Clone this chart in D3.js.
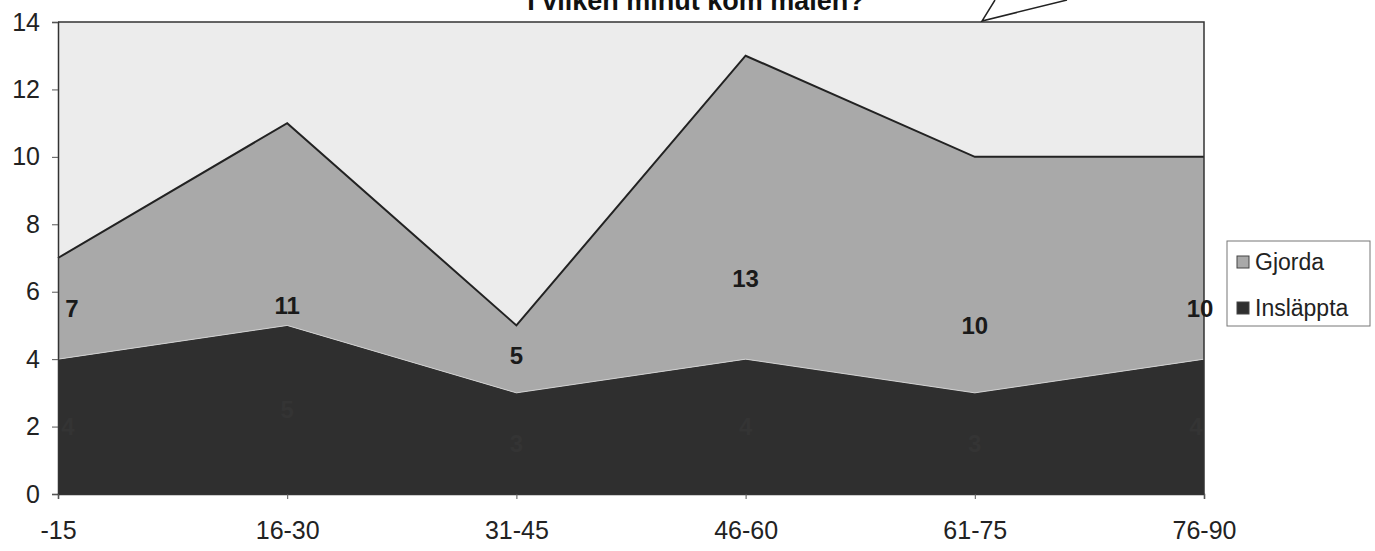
<!DOCTYPE html>
<html>
<head>
<meta charset="utf-8">
<script src="https://cdn.jsdelivr.net/npm/d3@7"></script>
<style>
  body { margin: 0; background: #fff; }
  text { font-family: "Liberation Sans", Arial, sans-serif; }
</style>
</head>
<body>
<script>
  // categories and series
  const periods = ['-15', '16-30', '31-45', '46-60', '61-75', '76-90'];
  const inslappta = [4, 5, 3, 4, 3, 4];
  const gjorda = [3, 6, 2, 9, 7, 6];
  const totals = [7, 11, 5, 13, 10, 10];
  // where Excel put the total labels (in value units)
  const labelAt = [5.5, 5.6, 4.1, 6.4, 5.0, 5.5];
  const yTicks = [0, 2, 4, 6, 8, 10, 12, 14];
  const seriesNames = ['Gjorda', 'Insläppta'];

  const width = 1375;
  const height = 551;
  const margin = { top: 22, right: 171, bottom: 57, left: 58 };

  const svg = d3.select('body')
    .append('svg')
    .attr('width', width)
    .attr('height', height);

  const x = d3.scalePoint()
    .domain(periods)
    .range([margin.left, width - margin.right]);

  const y = d3.scaleLinear()
    .domain([0, 14])
    .range([height - margin.bottom, margin.top]);

  const rows = periods.map((p, i) => ({ period: p, Insläppta: inslappta[i], Gjorda: gjorda[i] }));
  const stacked = d3.stack().keys(['Insläppta', 'Gjorda'])(rows);

  // plot background
  svg.append('rect')
    .attr('x', margin.left)
    .attr('y', margin.top)
    .attr('width', width - margin.right - margin.left)
    .attr('height', height - margin.bottom - margin.top)
    .attr('fill', '#ececec');

  const area = d3.area()
    .x((d) => x(d.data.period))
    .y0((d) => y(d[0]))
    .y1((d) => y(d[1]));

  const fills = { 'Insläppta': '#2f2f2f', 'Gjorda': '#a9a9a9' };

  svg.selectAll('path.area')
    .data(stacked)
    .join('path')
    .attr('class', 'area')
    .attr('d', area)
    .attr('fill', (d) => fills[d.key]);

  // outline of the top of each layer
  const topLine = d3.line()
    .x((d) => x(d.data.period))
    .y((d) => y(d[1]));

  svg.append('path')
    .attr('d', topLine(stacked[1]))
    .attr('fill', 'none')
    .attr('stroke', '#222')
    .attr('stroke-width', 2);

  svg.append('path')
    .attr('d', topLine(stacked[0]))
    .attr('fill', 'none')
    .attr('stroke', '#d0d0d0')
    .attr('stroke-width', 1);

  // plot frame top and right
  svg.append('path')
    .attr('d', `M${margin.left},${margin.top}H${width - margin.right}V${height - margin.bottom}`)
    .attr('fill', 'none')
    .attr('stroke', '#333')
    .attr('stroke-width', 1.5);

  // axes
  const yAxis = svg.append('g')
    .attr('transform', `translate(${margin.left},0)`)
    .call(d3.axisLeft(y).tickValues(yTicks).tickSize(6).tickPadding(12));

  const xAxis = svg.append('g')
    .attr('transform', `translate(0,${height - margin.bottom})`)
    .call(d3.axisBottom(x).tickSize(5).tickPadding(22));

  [yAxis, xAxis].forEach((g) => {
    g.select('.domain').attr('stroke', '#333').attr('stroke-width', 1.5);
    g.selectAll('.tick line').attr('stroke', '#555');
    g.selectAll('.tick text')
      .attr('font-size', 25)
      .attr('fill', '#222')
      .style('font-family', '"Liberation Sans", Arial, sans-serif');
  });

  // data labels
  svg.selectAll('text.total')
    .data(totals)
    .join('text')
    .attr('class', 'total')
    .attr('x', (d, i) => x(periods[i]) + (i === 0 ? 14 : i === periods.length - 1 ? -4 : 0))
    .attr('y', (d, i) => y(labelAt[i]))
    .attr('text-anchor', 'middle')
    .attr('dy', '0.35em')
    .attr('font-size', 24)
    .attr('font-weight', 'bold')
    .attr('fill', '#1a1a1a')
    .text((d) => d);

  svg.selectAll('text.inner')
    .data(inslappta)
    .join('text')
    .attr('class', 'inner')
    .attr('x', (d, i) => x(periods[i]) + (i === 0 ? 10 : i === periods.length - 1 ? -8 : 0))
    .attr('y', (d) => y(d / 2))
    .attr('text-anchor', 'middle')
    .attr('dy', '0.35em')
    .attr('font-size', 24)
    .attr('font-weight', 'bold')
    .attr('fill', '#343434')
    .text((d) => d);

  // title, cut at the top edge as in the scan
  svg.append('text')
    .attr('x', 696)
    .attr('y', 10)
    .attr('text-anchor', 'middle')
    .attr('font-size', 27)
    .attr('font-weight', 'bold')
    .attr('fill', '#111')
    .text('I vilken minut kom målen?');

  // callout pointer
  svg.append('path')
    .attr('d', 'M995,0L982,21L1067,0')
    .attr('fill', '#fff')
    .attr('stroke', '#222')
    .attr('stroke-width', 1.5);

  // legend
  const legend = svg.append('g')
    .attr('transform', 'translate(1227,241)');

  legend.append('rect')
    .attr('width', 143)
    .attr('height', 85)
    .attr('fill', '#fff')
    .attr('stroke', '#777')
    .attr('stroke-width', 1);

  const legendFills = ['#a9a9a9', '#2f2f2f'];

  const item = legend.selectAll('g.item')
    .data(seriesNames)
    .join('g')
    .attr('class', 'item')
    .attr('transform', (d, i) => `translate(10,${21 + i * 46})`);

  item.append('rect')
    .attr('x', 0)
    .attr('y', -6)
    .attr('width', 12)
    .attr('height', 12)
    .attr('fill', (d, i) => legendFills[i])
    .attr('stroke', '#444');

  item.append('text')
    .attr('x', 18)
    .attr('dy', '0.35em')
    .attr('font-size', 23)
    .attr('fill', '#222')
    .text((d) => d);
</script>
</body>
</html>
